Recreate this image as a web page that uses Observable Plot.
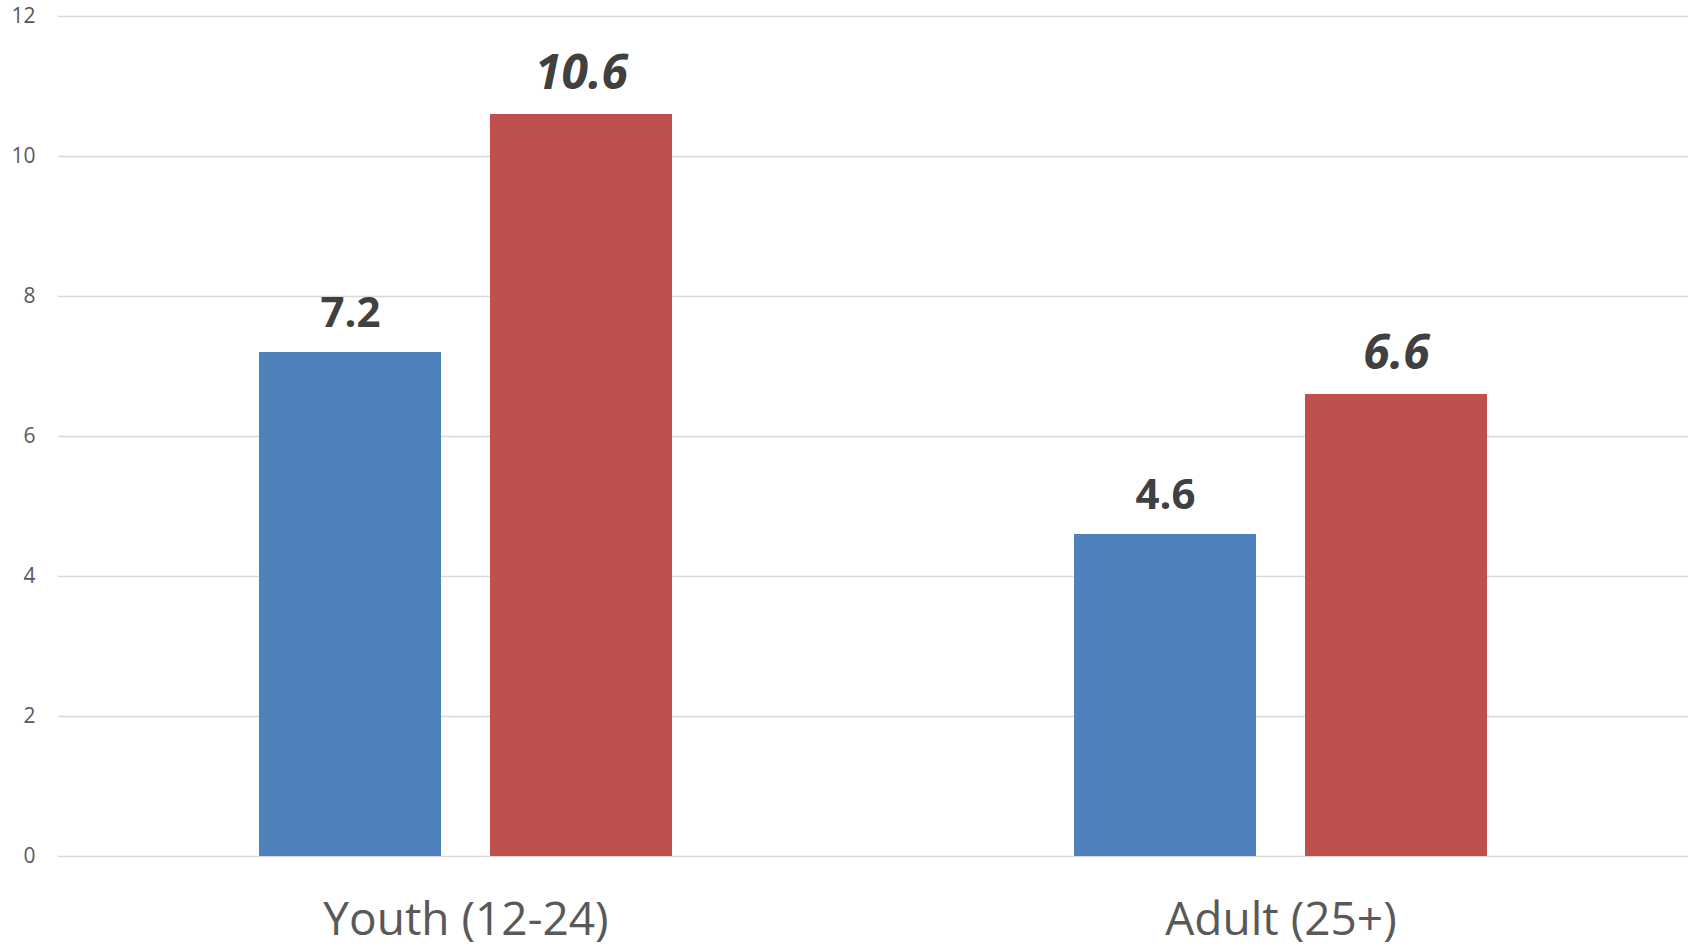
<!DOCTYPE html>
<html>
<head>
<meta charset="utf-8">
<script src="https://cdn.jsdelivr.net/npm/d3@7"></script>
<script src="https://cdn.jsdelivr.net/npm/@observablehq/plot@0.6"></script>
<style>
  html, body { margin: 0; padding: 0; background: #fff; overflow: hidden; }
  #chart svg { display: block; }
</style>
</head>
<body>
<div id="chart"></div>
<script>
const groups = ["Youth (12-24)", "Adult (25+)"];
const series = ["Series 1", "Series 2"];
const series1Values = [7.2, 4.6];
const series2Values = [10.6, 6.6];
const yTicks = [0, 2, 4, 6, 8, 10, 12];
const seriesColors = ["#4F81BD", "#C0504D"];

const data = [];
groups.forEach((g, i) => {
  data.push({group: g, series: series[0], value: series1Values[i]});
  data.push({group: g, series: series[1], value: series2Values[i]});
});

const chart = Plot.plot({
  width: 1692,
  height: 951,
  marginLeft: 58,
  marginRight: 4,
  marginTop: 16,
  marginBottom: 95,
  style: {fontFamily: "'Open Sans', sans-serif", background: "#fff"},
  fx: {domain: groups, padding: 0},
  x: {domain: series, paddingInner: 0.211, paddingOuter: 0.862, axis: null},
  y: {domain: [0, 12], ticks: yTicks},
  color: {domain: series, range: seriesColors},
  marks: [
    Plot.gridY(yTicks, {stroke: "#d9d9d9", strokeOpacity: 1, strokeWidth: 1.4}),
    Plot.axisY(yTicks, {anchor: "left", tickSize: 0, tickPadding: 23, fontSize: 21, fill: "#595959", label: null, tickFormat: d => String(d)}),
    Plot.axisFx({anchor: "bottom", tickSize: 0, tickPadding: 46, fontSize: 46, fill: "#595959", label: null, letterSpacing: 3.5}),
    Plot.barY(data, {fx: "group", x: "series", y: "value", fill: "series"}),
    Plot.text(data.filter(d => d.series === series[0]), {
      fx: "group", x: "series", y: "value",
      text: d => d.value.toFixed(1),
      lineAnchor: "bottom", dy: -26,
      fontSize: 42, fontWeight: "bold", fill: "#404040"
    }),
    Plot.text(data.filter(d => d.series === series[1]), {
      fx: "group", x: "series", y: "value",
      text: d => d.value.toFixed(1),
      lineAnchor: "bottom", dy: -26,
      fontSize: 48, fontWeight: "bold", fontStyle: "italic", fill: "#404040"
    })
  ]
});
document.getElementById("chart").appendChild(chart);
</script>
</body>
</html>
